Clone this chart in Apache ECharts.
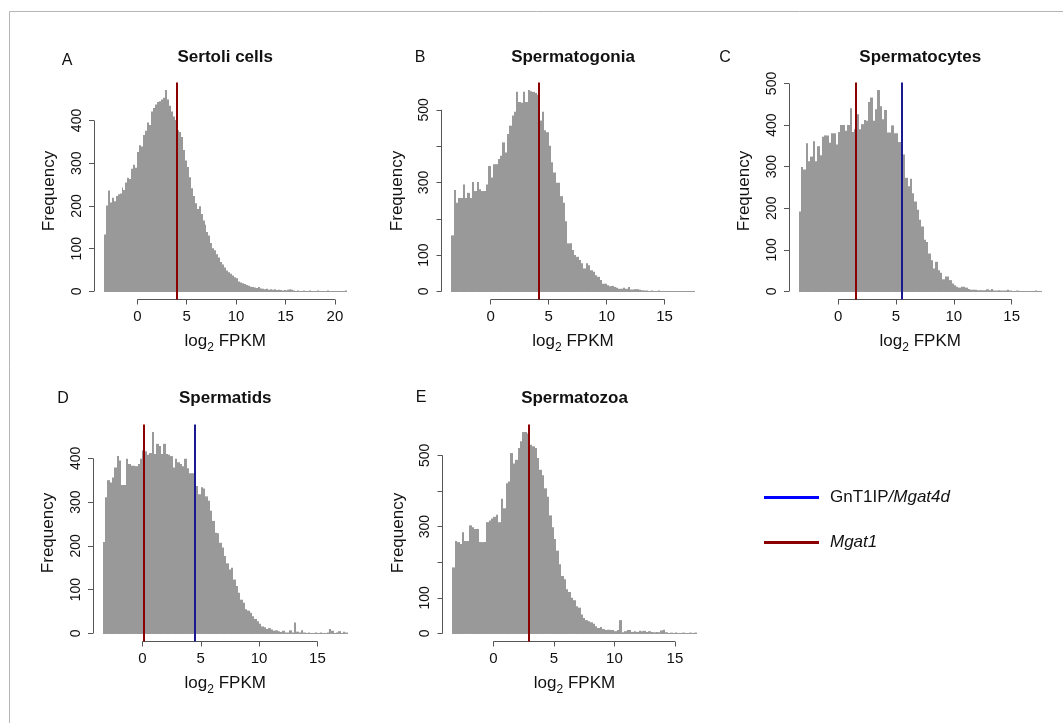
<!DOCTYPE html>
<html>
<head>
<meta charset="utf-8">
<script src="https://cdn.jsdelivr.net/npm/echarts@6/dist/echarts.min.js"></script>
<style>
html,body{margin:0;padding:0;background:#fff;}
#chart{width:1063px;height:723px;}
</style>
</head>
<body>
<div id="chart"></div>
<script>
// ---------------- DATA ----------------
const binStart = -3.4;   // first histogram break (log2 FPKM)
const binWidth = 0.2;    // histogram bin width

const panelLetters = ['A', 'B', 'C', 'D', 'E'];
const panelTitles = ['Sertoli cells', 'Spermatogonia', 'Spermatocytes', 'Spermatids', 'Spermatozoa'];

const countsSertoli = [
  132,200,235,207,218,210,222,226,228,242,
  236,254,265,262,286,295,288,325,341,338,
  365,375,394,388,420,428,436,442,444,448,
  452,470,448,433,420,408,400,376,372,360,
  330,305,290,266,240,222,205,192,198,180,
  165,155,138,130,112,100,95,86,78,68,
  62,55,48,44,40,36,32,30,22,20,
  18,16,14,12,10,9,8,7,9,6,
  5,4,5,3,4,3,4,2,3,2,
  1,2,1,3,4,3,1,0,1,0,
  0,1,0,0,1,0,0,0,1,0,
  0,0,0,1,0,0,0,0,0,0,
  0,0,1
];
const countsSpermatogonia = [
  153,278,243,256,256,293,256,270,256,300,
  275,300,280,275,275,293,344,312,349,349,
  363,372,409,381,432,455,483,493,548,520,
  518,548,520,553,550,548,545,540,469,493,
  442,437,400,354,326,298,298,261,243,192,
  131,131,113,99,94,85,76,62,76,71,
  57,53,43,39,30,20,20,16,13,14,
  11,9,6,6,9,6,11,4,4,5,
  5,3,2,1,1,0,1,0,0,1,
  0,0,0,0,0,0,0,0,0,0,
  0,0,0,0,0
];
const countsSpermatocytes = [
  191,298,292,355,312,323,360,312,348,326,
  371,374,374,356,379,379,352,382,399,399,
  385,399,439,382,389,425,389,401,411,409,
  454,465,409,437,483,444,413,435,381,381,
  398,379,379,358,300,328,272,252,270,235,
  215,195,171,155,123,118,90,74,54,70,
  50,44,28,35,35,26,18,14,10,8,
  10,10,8,5,3,3,3,2,2,2,
  2,4,2,5,1,1,2,1,1,1,
  3,1,0,0,1,0,0,0,0,0,
  0,0,1,0,0
];
const countsSpermatids = [
  208,310,349,344,355,378,404,394,338,338,
  398,386,382,382,381,386,398,417,415,407,
  411,459,409,432,427,409,432,409,407,404,
  378,398,390,386,381,398,376,365,365,363,
  336,317,333,330,312,302,279,256,229,228,
  206,195,176,159,145,149,122,107,92,76,
  69,54,51,46,38,32,27,21,15,13,
  9,11,8,5,6,4,2,5,1,1,
  6,1,24,3,1,6,1,0,1,0,
  0,1,0,1,0,0,1,9,5,0,
  1,4,0,3,1
];
const countsSpermatozoa = [
  184,258,255,250,283,258,258,302,297,292,
  292,255,255,255,311,316,321,326,332,311,
  377,350,420,425,505,476,486,519,538,564,
  564,560,528,524,519,491,458,443,406,382,
  330,297,264,231,193,160,151,123,115,99,
  92,75,71,52,42,36,33,30,26,19,
  14,17,11,8,9,8,8,5,8,36,
  2,5,8,8,3,5,3,6,5,6,
  3,5,3,2,3,2,7,9,2,0,
  1,0,1,0,0,1,0,0,1,0,
  1
];

// gene positions (log2 FPKM) per panel
const mgat1Pos  = [3.98, 4.15, 1.56, 0.14, 2.93];
const gnt1ipPos = [null, null, 5.52, 4.46, null];

// axis ticks / labels
const xTicksPanels  = [[0,5,10,15,20],[0,5,10,15],[0,5,10,15],[0,5,10,15],[0,5,10,15]];
const yTicksPanels  = [[0,100,200,300,400],[0,100,200,300,400,500],[0,100,200,300,400,500],[0,100,200,300,400],[0,100,200,300,400,500]];
const yLabelsPanels = [[0,100,200,300,400],[0,100,300,500],[0,100,200,300,400,500],[0,100,200,300,400],[0,100,300,500]];

const seriesCounts = [countsSertoli, countsSpermatogonia, countsSpermatocytes, countsSpermatids, countsSpermatozoa];
const legendNames = ['GnT1IP/Mgat4d', 'Mgat1'];

// ---------------- LAYOUT / STYLE ----------------
const FONT = '"Liberation Sans", Arial, Helvetica, sans-serif';
const BAR = '#999999';
const AXIS = '#555555';
const TXT = '#111111';
const RED = '#8B0000';
const BLUE_LINE = '#1a1a90';
const BLUE_LEGEND = '#0000ff';

const gridBoxes = [
  {left: 94,    top: 82.5,  width: 262.5, height: 217},
  {left: 441.5, top: 82.5,  width: 263,   height: 217},
  {left: 789,   top: 82.5,  width: 262.5, height: 217},
  {left: 93,    top: 424.5, width: 264.5, height: 217},
  {left: 442.5, top: 424.5, width: 264,   height: 217}
];
const letterPos = [[67, 61], [420, 58], [725, 58], [63, 399], [421, 398]];
const titleY = [57, 57, 57, 398, 398];

// ---------------- BUILD ----------------
const grids = [], xAxes = [], yAxes = [], series = [], graphics = [];

function renderBar(params, api) {
  const a = api.coord([api.value(0), 0]);
  const b = api.coord([api.value(1), api.value(2)]);
  const xl = Math.round(a[0]), xr = Math.round(b[0]);
  const yb = a[1] + 0.5;
  return {
    type: 'rect',
    shape: {x: xl, y: Math.min(b[1] - 0.5, yb - 1), width: xr - xl, height: Math.max(yb - b[1] + 0.5, 1)},
    style: {fill: BAR}
  };
}

seriesCounts.forEach((counts, k) => {
  const nb = counts.length;
  const x0 = binStart, x1 = binStart + nb * binWidth;
  const xr = x1 - x0;
  const xLo = x0 - 0.04 * xr, xHi = x1 + 0.04 * xr;
  const maxC = Math.max(...counts);
  const yLo = -0.04 * maxC, yHi = 1.04 * maxC;
  const xt = xTicksPanels[k], yt = yTicksPanels[k];

  grids.push(Object.assign({containLabel: false}, gridBoxes[k]));

  xAxes.push({
    gridIndex: k, type: 'value', min: xLo, max: xHi,
    axisLine: {show: false, onZero: false},
    axisTick: {show: true, length: 5, lineStyle: {color: AXIS, width: 1}, customValues: xt},
    axisLabel: {customValues: xt, fontSize: 15, fontFamily: FONT, color: TXT, margin: 10},
    splitLine: {show: false},
    name: 'log{s|2} FPKM', nameLocation: 'middle', nameGap: 30,
    nameTextStyle: {fontSize: 17, fontFamily: FONT, color: TXT, lineHeight: 24,
      rich: {s: {fontSize: 12, fontFamily: FONT, color: TXT, lineHeight: 12, verticalAlign: 'bottom'}}}
  });
  yAxes.push({
    gridIndex: k, type: 'value', min: yLo, max: yHi,
    axisLine: {show: false, onZero: false},
    axisTick: {show: true, length: 5, lineStyle: {color: AXIS, width: 1}, customValues: yt},
    axisLabel: {customValues: yLabelsPanels[k], rotate: 90, fontSize: 14, fontFamily: FONT, color: TXT, margin: 10},
    splitLine: {show: false},
    name: 'Frequency', nameLocation: 'middle', nameGap: 36, nameRotate: 90,
    nameTextStyle: {fontSize: 17, fontFamily: FONT, color: TXT}
  });

  series.push({
    type: 'custom', name: 'hist' + k, xAxisIndex: k, yAxisIndex: k,
    renderItem: renderBar,
    encode: {x: [0, 1], y: 2},
    data: counts.map((c, i) => [binStart + i * binWidth, binStart + (i + 1) * binWidth, c]),
    silent: true, z: 2,
    markLine: {
      silent: true, symbol: 'none', label: {show: false}, animation: false,
      lineStyle: {color: AXIS, width: 1, type: 'solid'},
      data: [
        [{coord: [xt[0], yLo]}, {coord: [xt[xt.length - 1], yLo]}],
        [{coord: [xLo, yt[0]]}, {coord: [xLo, yt[yt.length - 1]]}]
      ]
    }
  });

  if (gnt1ipPos[k] !== null) {
    series.push({
      type: 'line', name: legendNames[0], xAxisIndex: k, yAxisIndex: k, data: [],
      color: BLUE_LEGEND, z: 5,
      markLine: {silent: true, symbol: 'none', label: {show: false}, animation: false,
        lineStyle: {color: BLUE_LINE, width: 2, type: 'solid'},
        data: [{xAxis: gnt1ipPos[k]}]}
    });
  }
  series.push({
    type: 'line', name: legendNames[1], xAxisIndex: k, yAxisIndex: k, data: [],
    color: RED, z: 5,
    markLine: {silent: true, symbol: 'none', label: {show: false}, animation: false,
      lineStyle: {color: RED, width: 2, type: 'solid'},
      data: [{xAxis: mgat1Pos[k]}]}
  });

  const g = gridBoxes[k];
  graphics.push({
    type: 'text', x: g.left + g.width / 2, y: titleY[k], silent: true,
    style: {text: panelTitles[k], fontSize: 17, fontWeight: 'bold', fontFamily: FONT, fill: TXT, align: 'center', verticalAlign: 'middle'}
  });
  graphics.push({
    type: 'text', x: letterPos[k][0], y: letterPos[k][1], silent: true,
    style: {text: panelLetters[k], fontSize: 16, fontFamily: FONT, fill: TXT, align: 'center', verticalAlign: 'middle'}
  });
});

// thin frame (top and left edges)
graphics.push({type: 'line', silent: true, shape: {x1: 9.5, y1: 11.5, x2: 1063, y2: 11.5}, style: {stroke: '#b5b5b5', lineWidth: 1}});
graphics.push({type: 'line', silent: true, shape: {x1: 9.5, y1: 11.5, x2: 9.5, y2: 723}, style: {stroke: '#b5b5b5', lineWidth: 1}});

const chart = echarts.init(document.getElementById('chart'), null, {renderer: 'canvas'});
chart.setOption({
  animation: false,
  backgroundColor: '#ffffff',
  grid: grids,
  xAxis: xAxes,
  yAxis: yAxes,
  series: series,
  graphic: graphics,
  legend: {
    orient: 'vertical', left: 764, top: 489, padding: 0,
    itemWidth: 55, itemHeight: 3, itemGap: 28, icon: 'rect', selectedMode: false,
    data: legendNames,
    formatter: name => name === 'Mgat1' ? '{ip|Mgat1}' : '{n|GnT1IP}{i|/Mgat4d}',
    textStyle: {fontSize: 17, fontFamily: FONT, color: TXT,
      rich: {
        n:  {fontSize: 17, fontFamily: FONT, color: TXT, lineHeight: 20, padding: [0, 0, 0, 6]},
        i:  {fontSize: 17, fontFamily: FONT, color: TXT, lineHeight: 20, fontStyle: 'italic'},
        ip: {fontSize: 17, fontFamily: FONT, color: TXT, lineHeight: 20, fontStyle: 'italic', padding: [0, 0, 0, 6]}
      }}
  }
});
</script>
</body>
</html>
